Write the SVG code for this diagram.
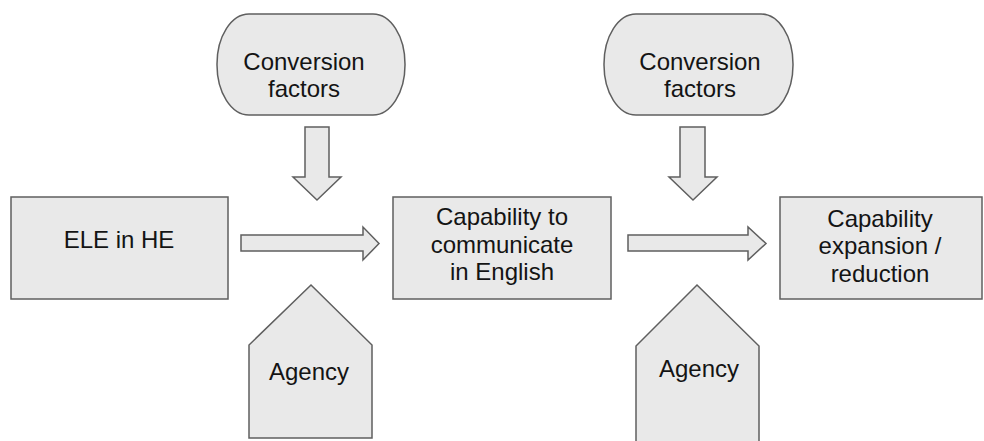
<svg xmlns="http://www.w3.org/2000/svg" width="984" height="441" viewBox="0 0 984 441">
<style>
.s{fill:#e9e9e9;stroke:#5f5f5f;stroke-width:1.5;stroke-linejoin:miter}
.t{font-family:"Liberation Sans",Arial,sans-serif;font-size:24px;fill:#141414;text-anchor:middle}
</style>
<rect width="984" height="441" fill="#ffffff"/>
<g id="conv1">
<rect class="s" x="217" y="14" width="188" height="101" rx="32" ry="50"/>
<text class="t" x="304" y="70">Conversion</text>
<text class="t" x="304" y="97">factors</text>
</g>
<g id="conv2">
<rect class="s" x="604" y="14" width="189" height="101" rx="32" ry="50"/>
<text class="t" x="700" y="70">Conversion</text>
<text class="t" x="700" y="97">factors</text>
</g>
<g id="ele">
<rect class="s" x="11" y="197" width="217" height="102"/>
<text class="t" x="119" y="248">ELE in HE</text>
</g>
<g id="cap">
<rect class="s" x="393" y="197" width="218" height="102"/>
<text class="t" x="502" y="225">Capability to</text>
<text class="t" x="502" y="253">communicate</text>
<text class="t" x="502" y="280">in English</text>
</g>
<g id="exp">
<rect class="s" x="780" y="197" width="202" height="102"/>
<text class="t" x="880" y="227">Capability</text>
<text class="t" x="880" y="254">expansion /</text>
<text class="t" x="880" y="282">reduction</text>
</g>
<g id="agency1">
<polygon class="s" points="311,285 372,345 372,438 249,438 249,345"/>
<text class="t" x="309" y="380">Agency</text>
</g>
<g id="agency2">
<polygon class="s" points="697,285 759,346 759,446 636,446 636,346"/>
<text class="t" x="699" y="377">Agency</text>
</g>
<g id="connectors">
<polygon class="s" points="241,235 363,235 363,227 379,243.5 363,260 363,251 241,251"/>
<polygon class="s" points="628,235 748,235 748,227 766,243.5 748,260 748,251 628,251"/>
<polygon class="s" points="305,127 329,127 329,177 341,177 317,200 293,177 305,177"/>
<polygon class="s" points="680,127 705,127 705,177 717,177 693,200 669,177 680,177"/>
</g>
</svg>
